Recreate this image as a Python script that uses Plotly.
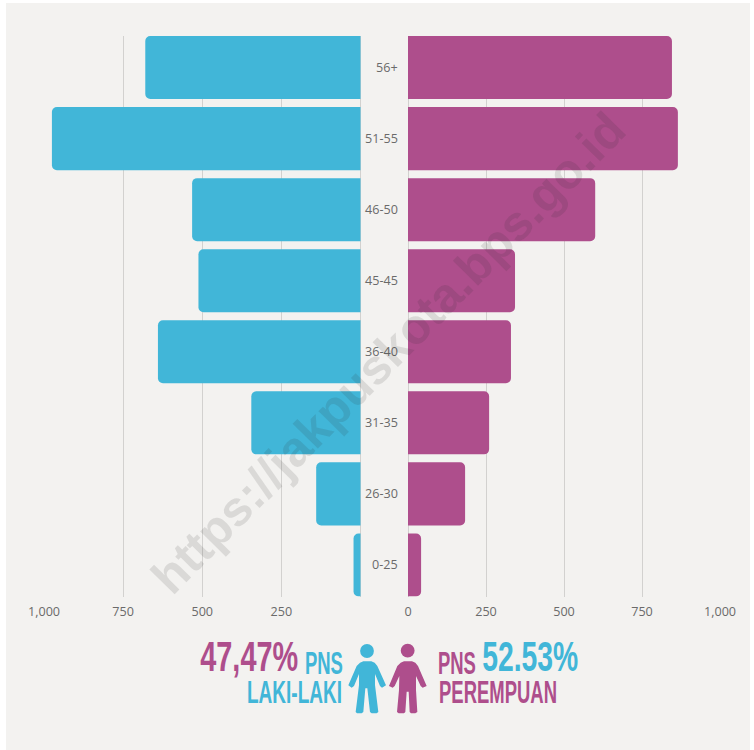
import plotly.graph_objects as go

W, H = 754, 750
AGE_GROUPS = ["0-25", "26-30", "31-35", "36-40", "45-45", "46-50", "51-55", "56+"]
MALE = [22, 140, 345, 640, 512, 532, 975, 680]
FEMALE = [42, 183, 260, 330, 343, 600, 865, 846]
LEFT_TICKS = [250, 500, 750, 1000]
RIGHT_TICKS = [0, 250, 500, 750, 1000]
BLUE, PURPLE = "#41B6D8", "#AE4E8C"
BG, GRID, TXT = "#F3F2F0", "#D2D1CF", "#6A6A6A"
FOOT = "Liberation Sans"
PAD = 40  # bars start behind the clip edge so that only outer corners look rounded


def px(x):
    return x / W


def py(y):
    return 1 - y / H


def crop_path(points):
    out = []
    for i, (x, y) in enumerate(points):
        X, Y = px(180 + x / 3), py(620 + y / 3)
        out.append(("M" if i == 0 else "L") + f"{X:.5f},{Y:.5f}")
    return " ".join(out) + " Z"


BLUE_BODY = [(540, 128), (550, 124), (574, 124), (584, 128), (592, 138), (618, 196), (606, 203), (600, 198),
             (585, 162), (585, 195), (595, 276), (590, 280), (575, 280), (570, 276), (562, 205), (556, 205),
             (550, 276), (545, 280), (531, 280), (527, 276), (537, 195), (537, 162), (522, 198), (515, 203),
             (505, 196), (530, 138)]
PURPLE_BODY = [(662, 128), (672, 124), (696, 124), (706, 128), (714, 138), (740, 198), (728, 203), (722, 198),
               (708, 168), (708, 210), (712, 276), (706, 280), (693, 280), (689, 276), (686, 215),
               (680, 215), (676, 276), (672, 280), (656, 280), (651, 276), (657, 210), (658, 168),
               (644, 198), (638, 203), (627, 198), (652, 138)]
HEADS = [(561, 93, BLUE), (683, 92, PURPLE)]

fig = go.Figure()
fig.add_bar(y=AGE_GROUPS, x=[v + PAD for v in MALE], base=-PAD, orientation="h", xaxis="x", yaxis="y",
            customdata=MALE, hovertemplate="%{y}: %{customdata}<extra>Laki-laki</extra>",
            marker=dict(color=BLUE, cornerradius=5, line_width=0), name="Laki-laki")
fig.add_bar(y=AGE_GROUPS, x=[v + PAD for v in FEMALE], base=-PAD, orientation="h", xaxis="x2", yaxis="y",
            customdata=FEMALE, hovertemplate="%{y}: %{customdata}<extra>Perempuan</extra>",
            marker=dict(color=PURPLE, cornerradius=5, line_width=0), name="Perempuan")

shapes = [dict(type="rect", xref="paper", yref="paper", x0=px(6), x1=px(750), y0=py(750), y1=py(3),
               fillcolor=BG, line_width=0, layer="below")]
for body, col in ((BLUE_BODY, BLUE), (PURPLE_BODY, PURPLE)):
    shapes.append(dict(type="path", xref="paper", yref="paper", path=crop_path(body), fillcolor=col, line_width=0))
for hx, hy, col in HEADS:
    cx, cy = 180 + hx / 3, 620 + hy / 3
    shapes.append(dict(type="circle", xref="paper", yref="paper", x0=px(cx - 6.9), x1=px(cx + 6.9),
                       y0=py(cy + 6.9), y1=py(cy - 6.9), fillcolor=col, line_width=0))

annotations = [dict(x=px(400), xref="paper", y=a, yref="y", text=a, showarrow=False, xanchor="right", yshift=0,
                    font=dict(family="Open Sans", size=12.6, color=TXT)) for a in AGE_GROUPS]

FOOT_TEXT = [("47,47%", 249, 656.5, 42, PURPLE), ("PNS", 324, 663, 31, BLUE), ("LAKI-LAKI", 294.5, 692, 31, BLUE),
             ("PNS", 457.5, 663, 31, PURPLE), ("52.53%", 530, 656.5, 42, BLUE), ("PEREMPUAN", 498, 692, 31, PURPLE)]
for t, x, y, s, c in FOOT_TEXT:
    annotations.append(dict(x=px(x), y=py(y), xref="paper", yref="paper", text=t, showarrow=False, xanchor="center",
                            yanchor="middle", font=dict(family=FOOT, size=s, color=c, weight="bold")))
annotations.append(dict(x=px(388), y=py(353), xref="paper", yref="paper", text="https://jakpuskota.bps.go.id",
                        showarrow=False, textangle=-45.5, xanchor="center", yanchor="middle",
                        font=dict(family="Liberation Sans", size=49, color="rgba(40,40,40,0.12)", weight="bold")))

axis = dict(showline=False, showgrid=True, gridcolor=GRID, gridwidth=1, zeroline=True, zerolinecolor=GRID,
            zerolinewidth=1, ticks="outside", ticklen=3, tickcolor="rgba(0,0,0,0)", tickformat=",",
            tickfont=dict(family="Open Sans", size=12.6, color=TXT))
fig.update_layout(
    width=W, height=H, margin=dict(l=0, r=0, t=0, b=0, autoexpand=False), autosize=False,
    paper_bgcolor="white", plot_bgcolor="rgba(0,0,0,0)", showlegend=False,
    barmode="overlay", bargap=8 / 71,
    shapes=shapes, annotations=annotations,
    xaxis=dict(axis, domain=[px(44), px(360.5)], range=[1000, 0], tickvals=LEFT_TICKS, anchor="y"),
    xaxis2=dict(axis, domain=[px(408), px(720)], range=[0, 1000], tickvals=RIGHT_TICKS, anchor="y"),
    yaxis=dict(domain=[py(596.5), py(36)], type="category", categoryorder="array", categoryarray=AGE_GROUPS,
               range=[-0.444, 7.444], showgrid=False, zeroline=False, showline=False, showticklabels=False, ticks=""),
)

POST = """
document.body.style.margin = '0';
var widths = {'47,47%': 98, 'PNS': 38, 'LAKI-LAKI': 95, '52.53%': 96, 'PEREMPUAN': 118};
document.querySelectorAll('.annotation-text').forEach(function (el) {
  var w = widths[el.textContent];
  if (w) { el.setAttribute('textLength', w); el.setAttribute('lengthAdjust', 'spacingAndGlyphs'); }
});
"""
fig.write_html("out.html", post_script=POST, config=dict(displayModeBar=False))
